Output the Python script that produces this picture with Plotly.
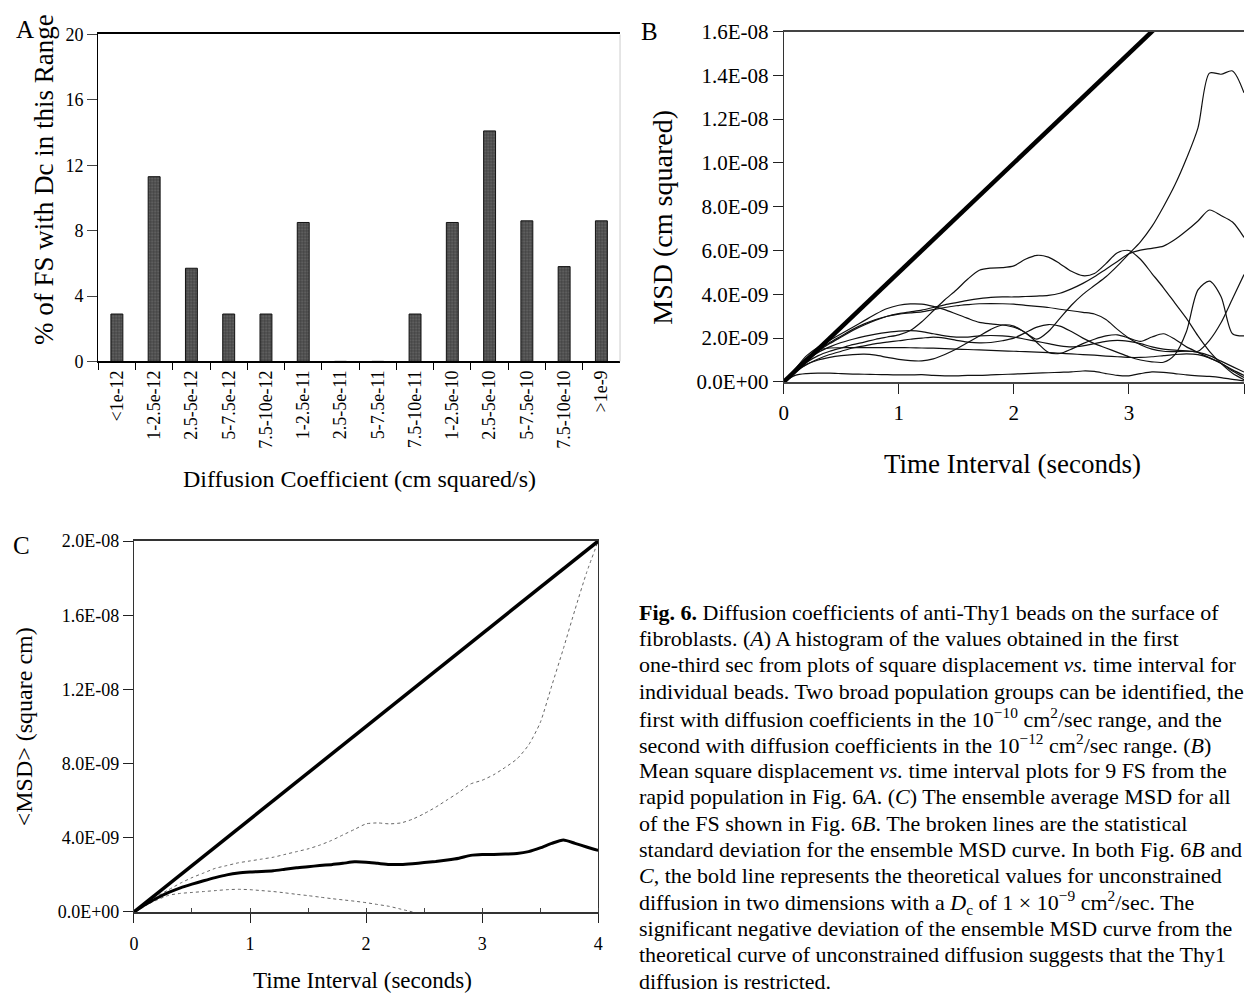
import plotly.graph_objects as go

FONT = "Liberation Serif, Times New Roman, serif"
W, H = 1249, 1003

# ---------------- Panel A data ----------------
dc_bins = ["<1e-12", "1-2.5e-12", "2.5-5e-12", "5-7.5e-12", "7.5-10e-12",
           "1-2.5e-11", "2.5-5e-11", "5-7.5e-11", "7.5-10e-11",
           "1-2.5e-10", "2.5-5e-10", "5-7.5e-10", "7.5-10e-10", ">1e-9"]
pct_fs = [2.9, 11.3, 5.7, 2.9, 2.9, 8.5, 0, 0, 2.9, 8.5, 14.1, 8.6, 5.8, 8.6]
pct_ticks = [0, 4, 8, 12, 16, 20]

# ---------------- Shared time grid (seconds) ----------------
time_s = [0.0, 0.1, 0.2, 0.3, 0.4, 0.5, 0.6, 0.7, 0.8, 0.9,
          1.0, 1.1, 1.2, 1.3, 1.4, 1.5, 1.6, 1.7, 1.8, 1.9,
          2.0, 2.1, 2.2, 2.3, 2.4, 2.5, 2.6, 2.7, 2.8, 2.9,
          3.0, 3.1, 3.2, 3.3, 3.4, 3.5, 3.6, 3.7, 3.8, 3.9, 4.0]

# ---------------- Panel B data (MSD in units of 1E-09 cm^2) ----------------
fs_a = [0, .3, .38, .4, .4, .38, .36, .35, .34, .33, .32, .32, .33, .3, .28, .28, .3, .3, .32, .34,
        .36, .38, .4, .42, .44, .46, .5, .48, .38, .3, .28, .38, .46, .44, .38, .32, .28, .25, .2, .12, .05]
fs_v = [0, .6, 1.1, 1.45, 1.55, 1.56, 1.57, 1.57, 1.57, 1.57, 1.57, 1.56, 1.55, 1.54, 1.52, 1.5, 1.48, 1.46, 1.44, 1.42,
        1.4, 1.38, 1.36, 1.34, 1.31, 1.28, 1.25, 1.22, 1.18, 1.15, 1.12, 1.12, 1.15, 1.2, 1.25, 1.28, 1.25, 1.1, .85, .5, .2]
fs_c = [0, .6, 1.2, 1.6, 1.9, 2.2, 2.5, 2.8, 3.1, 3.35, 3.5, 3.56, 3.55, 3.45, 3.3, 3.1, 2.9, 2.72, 2.65, 2.6,
        2.5, 2.25, 1.8, 1.35, 1.3, 1.5, 1.75, 1.95, 2.1, 2.15, 2.0, 1.85, 2.05, 2.2, 1.95, 1.6, 1.35, 1.1, .85, .55, .3]
fs_u = [0, .55, 1.05, 1.45, 1.8, 2.1, 2.4, 2.65, 2.85, 3.0, 3.1, 3.15, 3.2, 3.3, 3.4, 3.48, 3.53, 3.57, 3.58, 3.57,
        3.55, 3.5, 3.45, 3.4, 3.32, 3.25, 3.18, 3.1, 2.85, 2.4, 2.0, 1.7, 1.5, 1.4, 1.38, 1.4, 1.35, 1.2, .95, .7, .45]
fs_q = [0, .5, 1.0, 1.4, 1.75, 2.05, 2.35, 2.6, 2.82, 3.0, 3.12, 3.2, 3.28, 3.4, 3.52, 3.62, 3.72, 3.8, 3.86, 3.88,
        3.88, 3.9, 3.92, 3.95, 4.05, 4.25, 4.5, 4.8, 5.15, 5.5, 5.85, 6.02, 6.1, 6.2, 6.5, 6.9, 7.35, 7.85, 7.6, 7.3, 6.6]
fs_h = [0, .5, .9, 1.2, 1.4, 1.55, 1.7, 1.82, 1.95, 2.05, 2.15, 2.35, 2.75, 3.25, 3.75, 4.2, 4.7, 5.1, 5.2, 5.22,
        5.3, 5.6, 5.78, 5.7, 5.4, 5.05, 4.85, 4.95, 5.4, 5.9, 6.0, 5.6, 4.95, 4.3, 3.6, 2.9, 2.1, 1.4, .85, .4, .1]
fs_p = [0, .5, .8, 1.0, 1.12, 1.2, 1.25, 1.27, 1.22, 1.12, 1.03, .97, .96, 1.05, 1.25, 1.5, 1.8, 2.1, 2.4, 2.6,
        2.55, 2.25, 1.95, 2.3, 2.9, 3.5, 4.0, 4.4, 4.8, 5.3, 5.85, 6.4, 7.1, 8.0, 9.0, 10.2, 11.6, 14.1, 14.05, 14.2, 13.2]
fs_r = [0, .45, .8, 1.05, 1.25, 1.4, 1.55, 1.65, 1.75, 1.82, 1.88, 1.95, 2.0, 2.05, 2.0, 1.9, 1.82, 1.78, 1.8, 1.88,
        2.0, 2.25, 2.5, 2.62, 2.55, 2.3, 2.0, 1.75, 1.55, 1.35, 1.15, 1.0, .92, .9, 1.25, 2.3, 4.2, 4.6, 3.9, 2.2, 2.1]
fs_s = [0, .55, 1.0, 1.35, 1.6, 1.8, 1.95, 2.08, 2.18, 2.26, 2.32, 2.34, 2.3, 2.2, 2.1, 2.05, 2.05, 2.1, 2.12, 2.1,
        2.05, 1.95, 1.85, 1.75, 1.65, 1.6, 1.65, 1.75, 1.85, 1.9, 1.85, 1.75, 1.6, 1.5, 1.45, 1.42, 1.4, 1.9, 2.7, 3.8, 4.9]
fs_curves = [fs_a, fs_v, fs_c, fs_u, fs_q, fs_h, fs_p, fs_r, fs_s]

theory_t = [0, 4]
theory_b = [0, 20]  # 1E-09 units, Dc = 1e-9 cm^2/s
msd_b_ticks = [0, 2, 4, 6, 8, 10, 12, 14, 16]
msd_b_ticktext = ["0.0E+00", "2.0E-09", "4.0E-09", "6.0E-09", "8.0E-09",
                  "1.0E-08", "1.2E-08", "1.4E-08", "1.6E-08"]
time_ticks = [0, 1, 2, 3, 4]

# ---------------- Panel C data (1E-09 units) ----------------
theory_c = [0, 20]
msd_mean = [0, .4, .75, 1.05, 1.3, 1.5, 1.68, 1.85, 2.0, 2.1, 2.15, 2.18, 2.22, 2.3, 2.38, 2.44, 2.5, 2.55, 2.62, 2.7,
            2.68, 2.62, 2.56, 2.56, 2.6, 2.66, 2.72, 2.8, 2.9, 3.05, 3.1, 3.1, 3.12, 3.15, 3.25, 3.45, 3.7, 3.88, 3.7, 3.5, 3.32]
msd_upper = [0, .45, .85, 1.2, 1.55, 1.85, 2.1, 2.35, 2.5, 2.65, 2.75, 2.85, 2.95, 3.1, 3.25, 3.4, 3.6, 3.85, 4.15, 4.45,
             4.75, 4.8, 4.75, 4.8, 5.0, 5.3, 5.65, 6.05, 6.45, 6.9, 7.1, 7.4, 7.8, 8.25, 9.0, 10.2, 12.2, 14.2, 16.3, 18.3, 20.0]
msd_lower = [0, .35, .65, .9, 1.0, 1.05, 1.1, 1.15, 1.2, 1.22, 1.2, 1.15, 1.1, 1.03, .95, .88, .8, .72, .65, .58,
             .5, .4, .3, .15, 0.0, None, None, None, None, None, None, None, None, None, None, None, None, None, None, None, None]
msd_c_ticks = [0, 4, 8, 12, 16, 20]
msd_c_ticktext = ["0.0E+00", "4.0E-09", "8.0E-09", "1.2E-08", "1.6E-08", "2.0E-08"]

caption_lines = [
    "<b>Fig. 6.</b> Diffusion coefficients of anti-Thy1 beads on the surface of",
    "fibroblasts. (<i>A</i>) A histogram of the values obtained in the first",
    "one-third sec from plots of square displacement <i>vs.</i> time interval for",
    "individual beads. Two broad population groups can be identified, the",
    "first with diffusion coefficients in the 10<sup>\u221210</sup> cm<sup>2</sup>/sec range, and the",
    "second with diffusion coefficients in the 10<sup>\u221212</sup> cm<sup>2</sup>/sec range. (<i>B</i>)",
    "Mean square displacement <i>vs.</i> time interval plots for 9 FS from the",
    "rapid population in Fig. 6<i>A</i>. (<i>C</i>) The ensemble average MSD for all",
    "of the FS shown in Fig. 6<i>B</i>. The broken lines are the statistical",
    "standard deviation for the ensemble MSD curve. In both Fig. 6<i>B</i> and",
    "<i>C</i>, the bold line represents the theoretical values for unconstrained",
    "diffusion in two dimensions with a <i>D</i><sub>c</sub> of 1 \u00d7 10<sup>\u22129</sup> cm<sup>2</sup>/sec. The",
    "significant negative deviation of the ensemble MSD curve from the",
    "theoretical curve of unconstrained diffusion suggests that the Thy1",
    "diffusion is restricted.",
]


def px(x):
    return x / W


def py(y):
    return 1 - y / H


fig = go.Figure()

# Panel A bars
fig.add_trace(go.Bar(
    x=dc_bins, y=pct_fs, width=0.32, xaxis="x", yaxis="y",
    marker=dict(color="#555555", line=dict(color="#111111", width=1),
                pattern=dict(shape=".", fgcolor="#111111", bgcolor="#6a6a6a", size=3, solidity=0.55)),
))

# Panel B curves
for curve in fs_curves:
    fig.add_trace(go.Scatter(x=time_s, y=curve, mode="lines", xaxis="x2", yaxis="y2",
                             line=dict(color="#111111", width=1.2, shape="spline", smoothing=0.8)))
fig.add_trace(go.Scatter(x=theory_t, y=theory_b, mode="lines", xaxis="x2", yaxis="y2",
                         line=dict(color="#000000", width=4.5)))

# Panel C curves
fig.add_trace(go.Scatter(x=time_s, y=msd_upper, mode="lines", xaxis="x3", yaxis="y3",
                         line=dict(color="#666666", width=1, dash="dot", shape="spline", smoothing=0.6)))
fig.add_trace(go.Scatter(x=time_s, y=msd_lower, mode="lines", xaxis="x3", yaxis="y3",
                         line=dict(color="#666666", width=1, dash="dot", shape="spline", smoothing=0.6)))
fig.add_trace(go.Scatter(x=time_s, y=msd_mean, mode="lines", xaxis="x3", yaxis="y3",
                         line=dict(color="#000000", width=3, shape="spline", smoothing=0.6)))
fig.add_trace(go.Scatter(x=theory_t, y=theory_c, mode="lines", xaxis="x3", yaxis="y3",
                         line=dict(color="#000000", width=3.5)))

tick_font = dict(family=FONT, size=18, color="#000")

layout = dict(
    width=W, height=H, margin=dict(l=0, r=0, t=0, b=0),
    paper_bgcolor="white", plot_bgcolor="white", showlegend=False,
    font=dict(family=FONT, color="#000"),
    # Panel A
    xaxis=dict(domain=[px(94), px(620)], anchor="y", type="category", range=[-0.5, 13.5],
               showline=True, linecolor="#000", linewidth=1.5, mirror=True,
               ticks="outside", ticklen=7, tickson="boundaries", tickcolor="#000",
               tickangle=-90, tickfont=tick_font, showgrid=False, zeroline=False),
    yaxis=dict(domain=[py(358), py(23)], anchor="x", range=[0, 20], tickvals=pct_ticks,
               showline=True, linecolor="#000", linewidth=1.2, ticks="outside", ticklen=10,
               tickfont=tick_font, showgrid=False, zeroline=False),
    # Panel B
    xaxis2=dict(domain=[px(785), 1.0], anchor="y2", range=[0, 4], tickvals=time_ticks,
                showline=True, linecolor="#444", linewidth=2, mirror=True,
                ticks="outside", ticklen=10, tickcolor="#222", ticklabelstandoff=1,
                tickfont=dict(family=FONT, size=21, color="#000"), showgrid=False, zeroline=False),
    yaxis2=dict(domain=[py(379), py(20)], anchor="x2", range=[0, 16], tickvals=msd_b_ticks,
                ticktext=msd_b_ticktext, showline=True, linecolor="#333", linewidth=1,
                ticks="outside", ticklen=10, tickcolor="#222",
                tickfont=dict(family=FONT, size=21, color="#000"), showgrid=False, zeroline=False),
    # Panel C
    xaxis3=dict(domain=[px(130), px(598)], anchor="y3", range=[0, 4], tickvals=time_ticks,
                showline=True, linecolor="#333", linewidth=1.5, mirror=True,
                ticks="outside", ticklen=9, tickcolor="#222", ticklabelstandoff=6,
                minor=dict(dtick=0.5, ticks="inside", ticklen=4, tickcolor="#444"),
                tickfont=tick_font, showgrid=False, zeroline=False),
    yaxis3=dict(domain=[py(922), py(542)], anchor="x3", range=[0, 20], tickvals=msd_c_ticks,
                ticktext=msd_c_ticktext, showline=True, linecolor="#333", linewidth=1, mirror=True,
                ticks="outside", ticklen=10, tickcolor="#222",
                tickfont=tick_font, showgrid=False, zeroline=False),
)
fig.update_layout(**layout)

ann = []


def add_text(text, x, y, size, angle=0, xanchor="center", yanchor="middle"):
    ann.append(dict(text=text, x=px(x), y=py(y), xref="paper", yref="paper", showarrow=False,
                    xanchor=xanchor, yanchor=yanchor, textangle=angle,
                    font=dict(family=FONT, size=size, color="#000")))


# panel letters
add_text("A", 20, 18, 25)
add_text("B", 650, 20, 25)
add_text("C", 17, 547, 25)
# axis titles
add_text("% of FS with Dc in this Range", 40, 343, 27, angle=-90, yanchor="bottom")
add_text("Diffusion Coefficient (cm squared/s)", 357, 478, 24)
add_text("MSD (cm squared)", 663, 210, 28, angle=-90)
add_text("Time Interval (seconds)", 1016, 463, 27)
add_text("&lt;MSD&gt; (square cm)", 20, 732, 24, angle=-90)
add_text("Time Interval (seconds)", 360, 992, 23)
# caption
for i, line in enumerate(caption_lines):
    add_text(line, 637, 615 + 27 * i, 22, xanchor="left")

fig.update_layout(annotations=ann)
fig.add_shape(type="line", xref="x domain", yref="y domain", x0=1, x1=1, y0=0, y1=1,
              line=dict(color="#cccccc", width=1))

fig.write_html("out.html")
